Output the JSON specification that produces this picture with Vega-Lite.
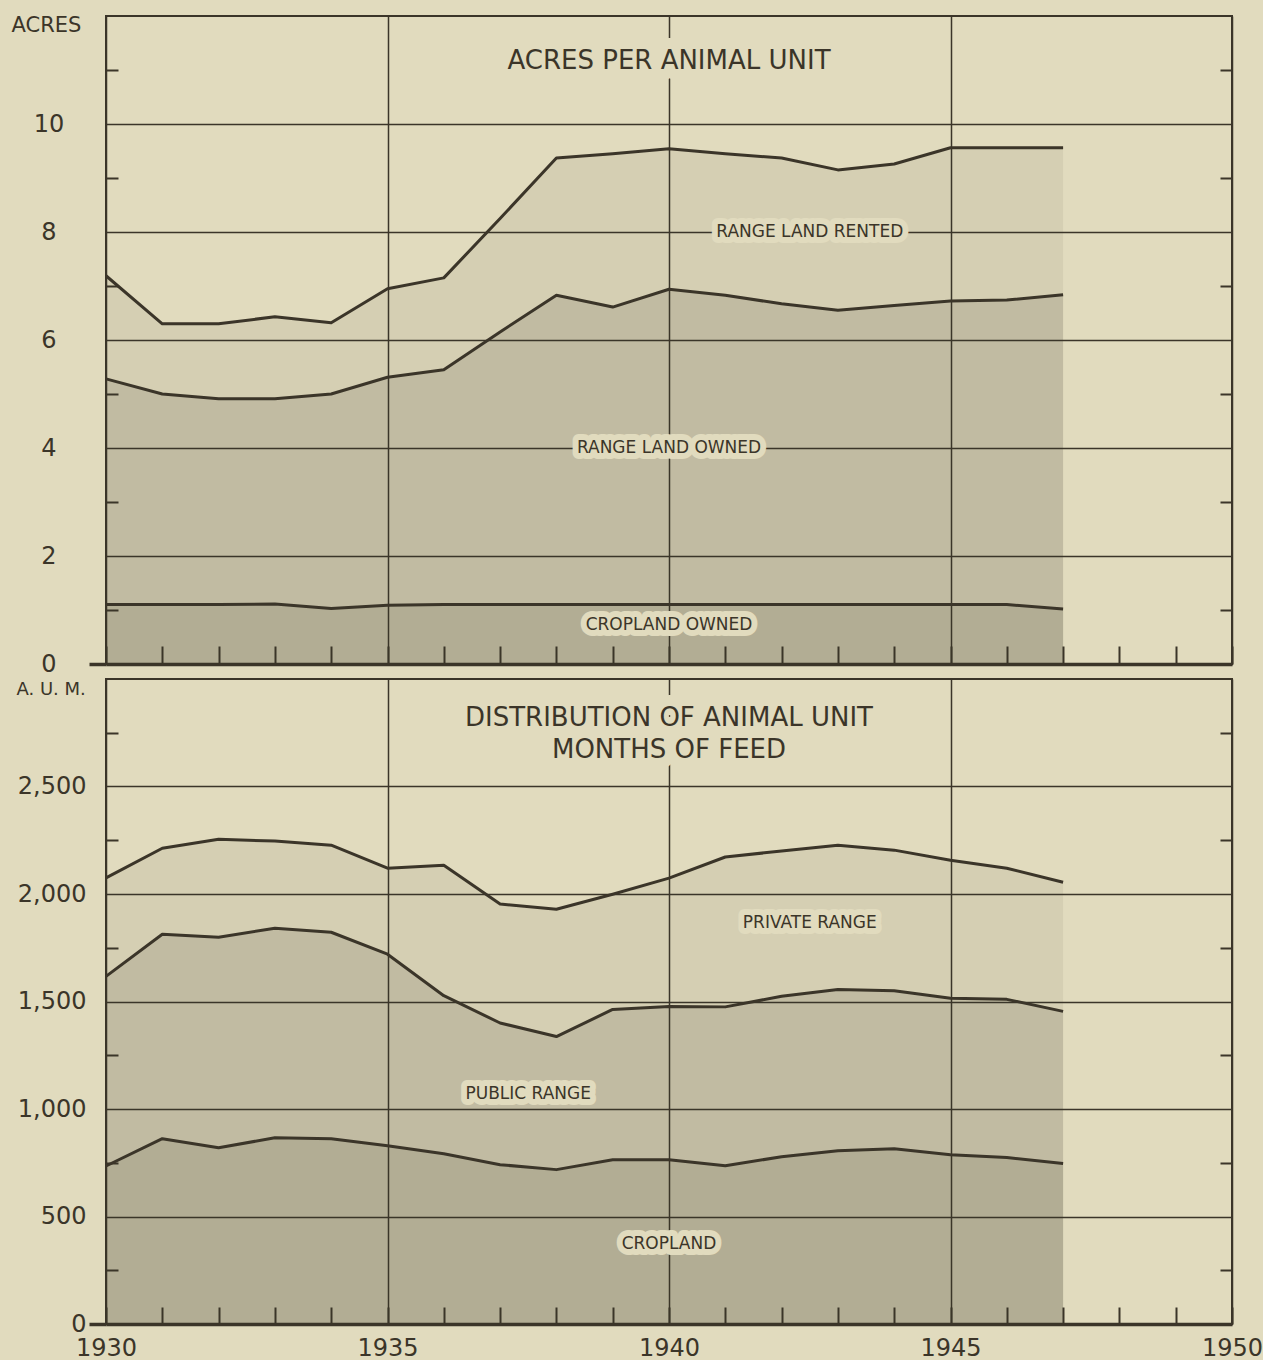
{
  "$schema": "https://vega.github.io/schema/vega-lite/v6.json",
  "background": "#e1dbbe",
  "padding": {"left": 10, "top": 13, "right": 5, "bottom": 5},
  "datasets": {
    "acres": [
      {"year": 1930, "cropland": 1.10, "owned": 5.28, "rented": 7.19},
      {"year": 1931, "cropland": 1.10, "owned": 5.00, "rented": 6.30},
      {"year": 1932, "cropland": 1.10, "owned": 4.91, "rented": 6.30},
      {"year": 1933, "cropland": 1.11, "owned": 4.91, "rented": 6.43},
      {"year": 1934, "cropland": 1.03, "owned": 5.00, "rented": 6.32},
      {"year": 1935, "cropland": 1.09, "owned": 5.31, "rented": 6.95},
      {"year": 1936, "cropland": 1.10, "owned": 5.45, "rented": 7.15},
      {"year": 1937, "cropland": 1.10, "owned": 6.15, "rented": 8.25},
      {"year": 1938, "cropland": 1.10, "owned": 6.83, "rented": 9.37},
      {"year": 1939, "cropland": 1.10, "owned": 6.61, "rented": 9.45},
      {"year": 1940, "cropland": 1.10, "owned": 6.94, "rented": 9.54},
      {"year": 1941, "cropland": 1.10, "owned": 6.83, "rented": 9.45},
      {"year": 1942, "cropland": 1.10, "owned": 6.67, "rented": 9.37},
      {"year": 1943, "cropland": 1.10, "owned": 6.55, "rented": 9.15},
      {"year": 1944, "cropland": 1.10, "owned": 6.64, "rented": 9.26},
      {"year": 1945, "cropland": 1.10, "owned": 6.72, "rented": 9.56},
      {"year": 1946, "cropland": 1.10, "owned": 6.74, "rented": 9.56},
      {"year": 1947, "cropland": 1.02, "owned": 6.84, "rented": 9.56}
    ],
    "aum": [
      {"year": 1930, "cropland": 735, "public": 1617, "private": 2075},
      {"year": 1931, "cropland": 862, "public": 1813, "private": 2213},
      {"year": 1932, "cropland": 820, "public": 1799, "private": 2255},
      {"year": 1933, "cropland": 866, "public": 1841, "private": 2246},
      {"year": 1934, "cropland": 862, "public": 1822, "private": 2227},
      {"year": 1935, "cropland": 829, "public": 1720, "private": 2120},
      {"year": 1936, "cropland": 792, "public": 1527, "private": 2134},
      {"year": 1937, "cropland": 741, "public": 1400, "private": 1953},
      {"year": 1938, "cropland": 718, "public": 1337, "private": 1929},
      {"year": 1939, "cropland": 764, "public": 1463, "private": 1999},
      {"year": 1940, "cropland": 764, "public": 1477, "private": 2074},
      {"year": 1941, "cropland": 736, "public": 1475, "private": 2172},
      {"year": 1942, "cropland": 778, "public": 1524, "private": 2200},
      {"year": 1943, "cropland": 806, "public": 1556, "private": 2227},
      {"year": 1944, "cropland": 815, "public": 1550, "private": 2204},
      {"year": 1945, "cropland": 787, "public": 1515, "private": 2157},
      {"year": 1946, "cropland": 774, "public": 1510, "private": 2120},
      {"year": 1947, "cropland": 746, "public": 1454, "private": 2055}
    ]
  },
  "spacing": 15,
  "bounds": "flush",
  "vconcat": [
    {
      "width": 1126,
      "height": 648,
      "data": {"name": "acres"},
      "resolve": {"axis": {"x": "independent", "y": "independent"}},
      "layer": [
        {
          "mark": {"type": "area", "fill": "#3b3529", "fillOpacity": 0.28},
          "encoding": {
            "x": {"field": "year", "type": "quantitative", "scale": {"domain": [1930, 1950], "nice": false, "zero": false},
              "axis": {"orient": "bottom", "title": null, "values": [1930,1931,1932,1933,1934,1935,1936,1937,1938,1939,1940,1941,1942,1943,1944,1945,1946,1947,1948,1949,1950], "ticks": true, "tickSize": -18, "tickWidth": 2, "domain": true, "domainWidth": 3.5}},
            "y": {"field": "cropland", "type": "quantitative", "scale": {"domain": [0, 12], "nice": false, "zero": true},
              "axis": {"orient": "left", "values": [0, 2, 4, 6, 8, 10], "format": "d", "grid": true, "labels": true, "labelAlign": "center", "labelBaseline": "middle", "labelPadding": 57.5, "title": "ACRES", "titleX": -95, "titleY": 15, "titleAngle": 0, "titleAlign": "left", "titleBaseline": "alphabetic", "titleFontSize": 21}}
          }
        },
        {
          "mark": {"type": "area", "fill": "#3b3529", "fillOpacity": 0.19},
          "encoding": {
            "x": {"field": "year", "type": "quantitative",
              "axis": {"orient": "bottom", "title": null, "values": [1930, 1935, 1940, 1945, 1950], "grid": true}},
            "y": {"field": "owned", "type": "quantitative",
              "axis": {"orient": "left", "title": null, "values": [1, 3, 5, 7, 9, 11], "ticks": true, "tickSize": -12, "tickWidth": 2}},
            "y2": {"field": "cropland"}
          }
        },
        {
          "mark": {"type": "area", "fill": "#3b3529", "fillOpacity": 0.07},
          "encoding": {
            "x": {"field": "year", "type": "quantitative", "axis": null},
            "y": {"field": "rented", "type": "quantitative",
              "axis": {"orient": "right", "title": null, "values": [1, 3, 5, 7, 9, 11], "ticks": true, "tickSize": -12, "tickWidth": 2}},
            "y2": {"field": "owned"}
          }
        },
        {
          "mark": {"type": "line", "stroke": "#3b3529", "strokeWidth": 3, "strokeJoin": "round"},
          "encoding": {
            "x": {"field": "year", "type": "quantitative", "axis": null},
            "y": {"field": "cropland", "type": "quantitative",
              "axis": {"orient": "left", "title": null, "values": [0], "ticks": true, "tickSize": 17, "tickWidth": 3.5}}
          }
        },
        {
          "mark": {"type": "line", "stroke": "#3b3529", "strokeWidth": 3, "strokeJoin": "round"},
          "encoding": {
            "x": {"field": "year", "type": "quantitative", "axis": null},
            "y": {"field": "owned", "type": "quantitative", "axis": null}
          }
        },
        {
          "mark": {"type": "line", "stroke": "#3b3529", "strokeWidth": 3, "strokeJoin": "round"},
          "encoding": {
            "x": {"field": "year", "type": "quantitative", "axis": null},
            "y": {"field": "rented", "type": "quantitative", "axis": null}
          }
        },
        {
          "data": {"values": [{}]},
          "mark": {"type": "text", "text": "ACRES PER ANIMAL UNIT", "font": "DejaVu Sans", "fontSize": 26, "align": "center", "baseline": "alphabetic", "fill": "#e1dbbe", "stroke": "#e1dbbe", "strokeWidth": 22, "strokeJoin": "round"},
          "encoding": {"x": {"datum": 1940, "type": "quantitative", "axis": null}, "y": {"datum": 11.02, "type": "quantitative", "axis": null}}
        },
        {
          "data": {"values": [{}]},
          "mark": {"type": "text", "text": "ACRES PER ANIMAL UNIT", "font": "DejaVu Sans", "fontSize": 26, "align": "center", "baseline": "alphabetic", "fill": "#3b3529"},
          "encoding": {"x": {"datum": 1940, "type": "quantitative", "axis": null}, "y": {"datum": 11.02, "type": "quantitative", "axis": null}}
        },
        {
          "data": {"values": [{}]},
          "mark": {"type": "text", "text": "RANGE LAND RENTED", "font": "DejaVu Sans", "fontSize": 17, "align": "center", "baseline": "middle", "fill": "#e1dbbe", "stroke": "#e1dbbe", "strokeWidth": 12, "strokeJoin": "round"},
          "encoding": {"x": {"datum": 1942.5, "type": "quantitative", "axis": null}, "y": {"datum": 8.0, "type": "quantitative", "axis": null}}
        },
        {
          "data": {"values": [{}]},
          "mark": {"type": "text", "text": "RANGE LAND RENTED", "font": "DejaVu Sans", "fontSize": 17, "align": "center", "baseline": "middle", "fill": "#3b3529"},
          "encoding": {"x": {"datum": 1942.5, "type": "quantitative", "axis": null}, "y": {"datum": 8.0, "type": "quantitative", "axis": null}}
        },
        {
          "data": {"values": [{}]},
          "mark": {"type": "text", "text": "RANGE LAND OWNED", "font": "DejaVu Sans", "fontSize": 17, "align": "center", "baseline": "middle", "fill": "#e1dbbe", "stroke": "#e1dbbe", "strokeWidth": 12, "strokeJoin": "round"},
          "encoding": {"x": {"datum": 1940, "type": "quantitative", "axis": null}, "y": {"datum": 4.0, "type": "quantitative", "axis": null}}
        },
        {
          "data": {"values": [{}]},
          "mark": {"type": "text", "text": "RANGE LAND OWNED", "font": "DejaVu Sans", "fontSize": 17, "align": "center", "baseline": "middle", "fill": "#3b3529"},
          "encoding": {"x": {"datum": 1940, "type": "quantitative", "axis": null}, "y": {"datum": 4.0, "type": "quantitative", "axis": null}}
        },
        {
          "data": {"values": [{}]},
          "mark": {"type": "text", "text": "CROPLAND OWNED", "font": "DejaVu Sans", "fontSize": 17, "align": "center", "baseline": "middle", "fill": "#e1dbbe", "stroke": "#e1dbbe", "strokeWidth": 12, "strokeJoin": "round"},
          "encoding": {"x": {"datum": 1940, "type": "quantitative", "axis": null}, "y": {"datum": 0.72, "type": "quantitative", "axis": null}}
        },
        {
          "data": {"values": [{}]},
          "mark": {"type": "text", "text": "CROPLAND OWNED", "font": "DejaVu Sans", "fontSize": 17, "align": "center", "baseline": "middle", "fill": "#3b3529"},
          "encoding": {"x": {"datum": 1940, "type": "quantitative", "axis": null}, "y": {"datum": 0.72, "type": "quantitative", "axis": null}}
        }
      ]
    },
    {
      "width": 1126,
      "height": 645,
      "data": {"name": "aum"},
      "resolve": {"axis": {"x": "independent", "y": "independent"}},
      "layer": [
        {
          "mark": {"type": "area", "fill": "#3b3529", "fillOpacity": 0.28},
          "encoding": {
            "x": {"field": "year", "type": "quantitative", "scale": {"domain": [1930, 1950], "nice": false, "zero": false},
              "axis": {"orient": "bottom", "title": null, "values": [1930,1931,1932,1933,1934,1935,1936,1937,1938,1939,1940,1941,1942,1943,1944,1945,1946,1947,1948,1949,1950], "ticks": true, "tickSize": -17, "tickWidth": 2, "domain": true, "domainWidth": 3.5}},
            "y": {"field": "cropland", "type": "quantitative", "scale": {"domain": [0, 3000], "nice": false, "zero": true},
              "axis": {"orient": "left", "values": [0, 500, 1000, 1500, 2000, 2500], "format": ",d", "grid": true, "labels": true, "labelAlign": "right", "labelBaseline": "middle", "labelPadding": 20, "title": "A. U. M.", "titleX": -90, "titleY": 15, "titleAngle": 0, "titleAlign": "left", "titleBaseline": "alphabetic", "titleFontSize": 18}}
          }
        },
        {
          "mark": {"type": "area", "fill": "#3b3529", "fillOpacity": 0.19},
          "encoding": {
            "x": {"field": "year", "type": "quantitative",
              "axis": {"orient": "bottom", "title": null, "values": [1930, 1935, 1940, 1945, 1950], "format": "d", "grid": true, "labels": true, "labelAlign": "center", "labelBaseline": "alphabetic", "labelPadding": 31}},
            "y": {"field": "public", "type": "quantitative",
              "axis": {"orient": "left", "title": null, "values": [250, 750, 1250, 1750, 2250, 2750], "ticks": true, "tickSize": -12, "tickWidth": 2}},
            "y2": {"field": "cropland"}
          }
        },
        {
          "mark": {"type": "area", "fill": "#3b3529", "fillOpacity": 0.07},
          "encoding": {
            "x": {"field": "year", "type": "quantitative", "axis": null},
            "y": {"field": "private", "type": "quantitative",
              "axis": {"orient": "right", "title": null, "values": [250, 750, 1250, 1750, 2250, 2750], "ticks": true, "tickSize": -12, "tickWidth": 2}},
            "y2": {"field": "public"}
          }
        },
        {
          "mark": {"type": "line", "stroke": "#3b3529", "strokeWidth": 3, "strokeJoin": "round"},
          "encoding": {
            "x": {"field": "year", "type": "quantitative", "axis": null},
            "y": {"field": "cropland", "type": "quantitative",
              "axis": {"orient": "left", "title": null, "values": [0], "ticks": true, "tickSize": 17, "tickWidth": 3.5}}
          }
        },
        {
          "mark": {"type": "line", "stroke": "#3b3529", "strokeWidth": 3, "strokeJoin": "round"},
          "encoding": {
            "x": {"field": "year", "type": "quantitative", "axis": null},
            "y": {"field": "public", "type": "quantitative", "axis": null}
          }
        },
        {
          "mark": {"type": "line", "stroke": "#3b3529", "strokeWidth": 3, "strokeJoin": "round"},
          "encoding": {
            "x": {"field": "year", "type": "quantitative", "axis": null},
            "y": {"field": "private", "type": "quantitative", "axis": null}
          }
        },
        {
          "data": {"values": [{}]},
          "mark": {"type": "text", "text": ["DISTRIBUTION OF ANIMAL UNIT", "MONTHS OF FEED"], "lineHeight": 32, "font": "DejaVu Sans", "fontSize": 26, "align": "center", "baseline": "alphabetic", "fill": "#e1dbbe", "stroke": "#e1dbbe", "strokeWidth": 22, "strokeJoin": "round"},
          "encoding": {"x": {"datum": 1940, "type": "quantitative", "axis": null}, "y": {"datum": 2782, "type": "quantitative", "axis": null}}
        },
        {
          "data": {"values": [{}]},
          "mark": {"type": "text", "text": ["DISTRIBUTION OF ANIMAL UNIT", "MONTHS OF FEED"], "lineHeight": 32, "font": "DejaVu Sans", "fontSize": 26, "align": "center", "baseline": "alphabetic", "fill": "#3b3529"},
          "encoding": {"x": {"datum": 1940, "type": "quantitative", "axis": null}, "y": {"datum": 2782, "type": "quantitative", "axis": null}}
        },
        {
          "data": {"values": [{}]},
          "mark": {"type": "text", "text": "PRIVATE RANGE", "font": "DejaVu Sans", "fontSize": 17, "align": "center", "baseline": "middle", "fill": "#e1dbbe", "stroke": "#e1dbbe", "strokeWidth": 12, "strokeJoin": "round"},
          "encoding": {"x": {"datum": 1942.5, "type": "quantitative", "axis": null}, "y": {"datum": 1865, "type": "quantitative", "axis": null}}
        },
        {
          "data": {"values": [{}]},
          "mark": {"type": "text", "text": "PRIVATE RANGE", "font": "DejaVu Sans", "fontSize": 17, "align": "center", "baseline": "middle", "fill": "#3b3529"},
          "encoding": {"x": {"datum": 1942.5, "type": "quantitative", "axis": null}, "y": {"datum": 1865, "type": "quantitative", "axis": null}}
        },
        {
          "data": {"values": [{}]},
          "mark": {"type": "text", "text": "PUBLIC RANGE", "font": "DejaVu Sans", "fontSize": 17, "align": "center", "baseline": "middle", "fill": "#e1dbbe", "stroke": "#e1dbbe", "strokeWidth": 12, "strokeJoin": "round"},
          "encoding": {"x": {"datum": 1937.5, "type": "quantitative", "axis": null}, "y": {"datum": 1069, "type": "quantitative", "axis": null}}
        },
        {
          "data": {"values": [{}]},
          "mark": {"type": "text", "text": "PUBLIC RANGE", "font": "DejaVu Sans", "fontSize": 17, "align": "center", "baseline": "middle", "fill": "#3b3529"},
          "encoding": {"x": {"datum": 1937.5, "type": "quantitative", "axis": null}, "y": {"datum": 1069, "type": "quantitative", "axis": null}}
        },
        {
          "data": {"values": [{}]},
          "mark": {"type": "text", "text": "CROPLAND", "font": "DejaVu Sans", "fontSize": 17, "align": "center", "baseline": "middle", "fill": "#e1dbbe", "stroke": "#e1dbbe", "strokeWidth": 12, "strokeJoin": "round"},
          "encoding": {"x": {"datum": 1940, "type": "quantitative", "axis": null}, "y": {"datum": 371, "type": "quantitative", "axis": null}}
        },
        {
          "data": {"values": [{}]},
          "mark": {"type": "text", "text": "CROPLAND", "font": "DejaVu Sans", "fontSize": 17, "align": "center", "baseline": "middle", "fill": "#3b3529"},
          "encoding": {"x": {"datum": 1940, "type": "quantitative", "axis": null}, "y": {"datum": 371, "type": "quantitative", "axis": null}}
        }
      ]
    }
  ],
  "config": {
    "view": {"stroke": "#3b3529", "strokeWidth": 2},
    "axis": {
      "domain": false, "ticks": false, "labels": false, "grid": false,
      "labelFont": "DejaVu Sans", "labelFontSize": 24, "labelColor": "#3b3529",
      "titleFont": "DejaVu Sans", "titleColor": "#3b3529", "titleFontWeight": "normal",
      "tickColor": "#3b3529", "tickWidth": 2, "gridColor": "#3b3529", "gridWidth": 1.5, "gridOpacity": 1,
      "domainColor": "#3b3529", "labelFlush": false, "labelOverlap": false
    }
  }
}
